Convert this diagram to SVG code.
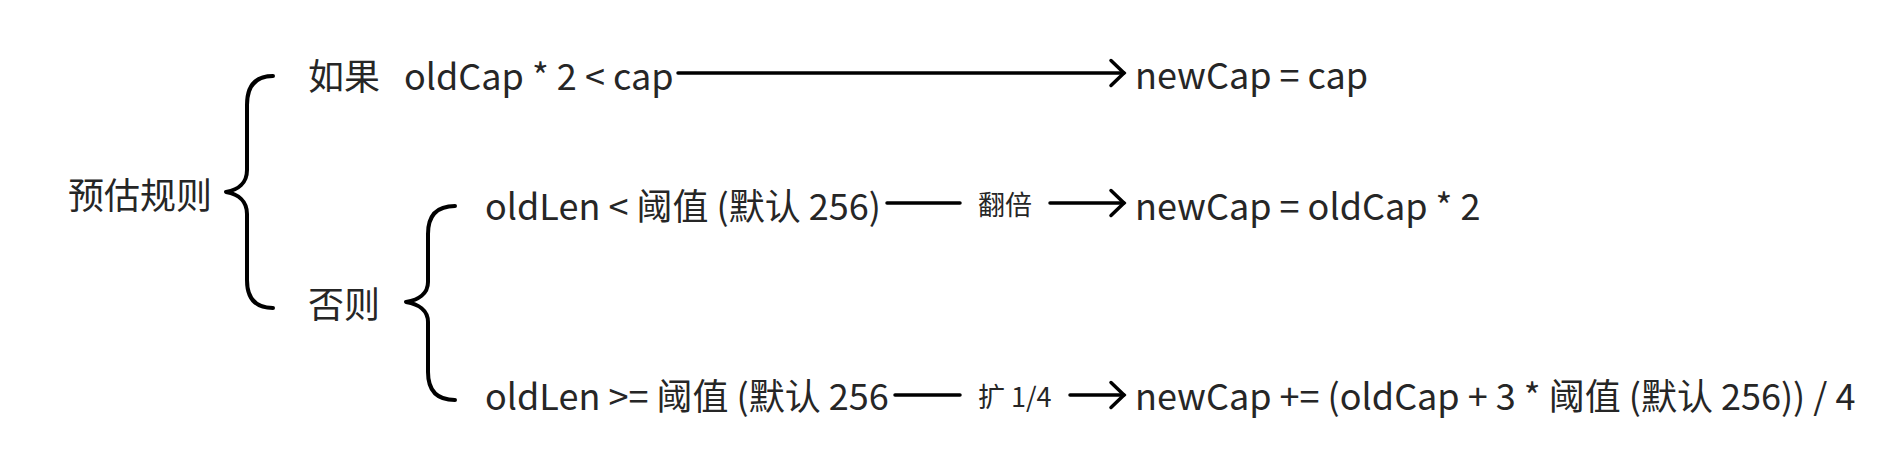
<svg xmlns="http://www.w3.org/2000/svg" width="1902" height="472" viewBox="0 0 1902 472">
<defs>
<style>
.t{font-family:"Noto Sans CJK SC","Noto Sans",sans-serif;font-size:36px;fill:#262626}
.s{font-family:"Noto Sans CJK SC","Noto Sans",sans-serif;font-size:27px;fill:#262626}
.br{fill:none;stroke:#000;stroke-width:4;stroke-linecap:round;stroke-linejoin:round}
.ln{fill:none;stroke:#000;stroke-width:3.5;stroke-linecap:round}
</style>
<marker id="ah" markerUnits="userSpaceOnUse" viewBox="-16 -16 20 32" refX="0" refY="0" markerWidth="20" markerHeight="32" orient="auto" overflow="visible">
<path d="M-13,-12.5 L0,0 L-13,12.5" fill="none" stroke="#000" stroke-width="3.5" stroke-linecap="round" stroke-linejoin="miter"/>
</marker>
</defs>
<rect width="1902" height="472" fill="#fff"/>
<g id="root"><text class="t" x="68" y="209">预估规则</text></g>
<g id="brace-root"><path class="br" d="M273,76 C255,76 247,86 247,105 L247,170 C247,183 238,190 226,192 C238,194 247,201 247,214 L247,280 C247,298 255,308 273,308"/></g>
<g id="if"><text class="t" x="308" y="90">如果</text></g>
<g id="cond1"><text class="t" x="404" y="90">oldCap * 2 &lt; cap</text></g>
<g id="else"><text class="t" x="308" y="318">否则</text></g>
<g id="brace-else"><path class="br" d="M455,206 C436,206 428,216 428,234 L428,282 C428,294 418,300 406,302 C418,304 428,310 428,322 L428,372 C428,390 436,400 455,400"/></g>
<g id="cond2"><text class="t" x="485" y="220">oldLen &lt; 阈值 (默认 256)</text></g>
<g id="cond3"><text class="t" x="485" y="410">oldLen &gt;= 阈值 (默认 256</text></g>
<g id="res1"><text class="t" x="1135" y="89">newCap = cap</text></g>
<g id="res2"><text class="t" x="1135" y="220">newCap = oldCap * 2</text></g>
<g id="res3"><text class="t" x="1135" y="410">newCap += (oldCap + 3 * 阈值 (默认 256)) / 4</text></g>
<g id="connectors">
<line class="ln" x1="678" y1="73" x2="1124" y2="73" marker-end="url(#ah)"/>
<line class="ln" x1="887" y1="203" x2="960" y2="203"/>
<text class="s" x="978" y="215">翻倍</text>
<line class="ln" x1="1050" y1="203" x2="1124" y2="203" marker-end="url(#ah)"/>
<line class="ln" x1="895" y1="395" x2="960" y2="395"/>
<text class="s" x="978" y="407">扩 1/4</text>
<line class="ln" x1="1070" y1="395" x2="1124" y2="395" marker-end="url(#ah)"/>
</g>
</svg>
